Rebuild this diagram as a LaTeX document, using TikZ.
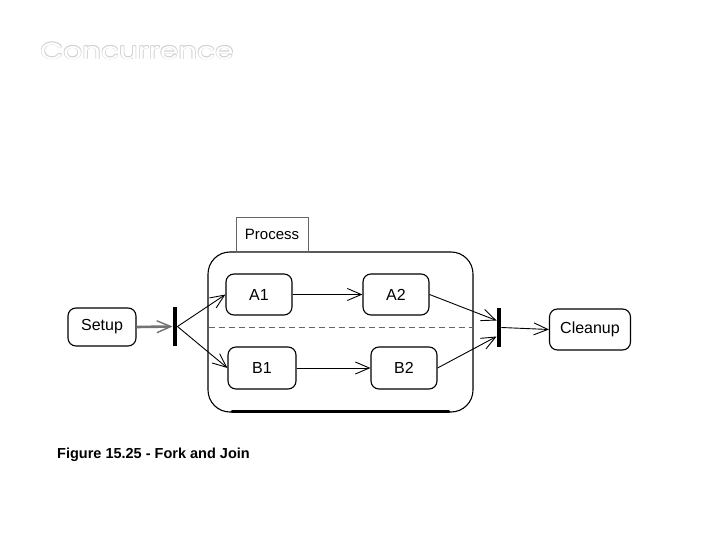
\documentclass[tikz,border=0pt]{standalone}
\usepackage{fontspec}
\setmainfont{Liberation Sans}
\newfontfamily\titlefont{Poppins}
\usetikzlibrary{arrows.meta}
\tikzset{
  state/.style={draw, line width=1.1pt, rounded corners=8pt, inner sep=0pt, font=\fontsize{16}{18}\selectfont},
  bar/.style={fill=black, inner sep=0pt, minimum width=4.5pt, minimum height=39pt},
  flow/.style={line width=0.9pt, -{Straight Barb[length=14pt,width=12pt,line width=0.9pt]}},
  ttl/.style={anchor=center, inner sep=0pt},
}
\newcommand{\ttltext}{\resizebox{193pt}{16.5pt}{\titlefont Concurrence}}
\begin{document}
\begin{tikzpicture}[x=1pt,y=-1pt]
\useasboundingbox (0,0) rectangle (720,540);
% title
\node[ttl, text=black!18] (ts1) at (137.6,51.6) {\ttltext};
\node[ttl, text=black!18] (ts2) at (136.4,50.4) {\ttltext};
\node[ttl, text=black!18] (ts3) at (137.6,50.4) {\ttltext};
\node[ttl, text=black!18] (ts4) at (136.4,51.6) {\ttltext};
\node[ttl, text=white] (title) at (137,51) {\ttltext};
% container
\draw[line width=1.1pt, rounded corners=22pt] (208,252) rectangle (473,412);
\draw[line width=2.6pt, line cap=round] (232,411.5) -- (449,411.5);
\node[draw=black!60, line width=0.5pt, inner sep=0pt, minimum width=72pt, minimum height=35pt, font=\fontsize{15}{17}\selectfont] (proc) at (272,234.5) {Process};
\draw[black!60, line width=1pt, dash pattern=on 6pt off 4pt] (208.5,327) coordinate (dl) -- (472.5,327) coordinate (dr);
% nodes
\node[state, minimum width=68pt, minimum height=38pt] (setup) at (102,327) {Setup};
\node[state, minimum width=66pt, minimum height=41pt] (A1) at (259,294.5) {A1};
\node[state, minimum width=68pt, minimum height=42pt] (B1) at (262,368) {B1};
\node[state, minimum width=66pt, minimum height=41pt] (A2) at (396,294.5) {A2};
\node[state, minimum width=66pt, minimum height=42pt] (B2) at (404,368) {B2};
\node[state, minimum width=81pt, minimum height=41pt] (clean) at (590,329.5) {Cleanup};
\node[bar] (fork) at (175,326.5) {};
\node[bar] (join) at (499,327.5) {};
% caption
\node[anchor=base west, inner sep=0pt, font=\bfseries\fontsize{14.5}{16}\selectfont] (cap) at (57,458) {Figure 15.25 - Fork and Join};
% flows
\draw[flow, black!55, line width=2.6pt, -{Straight Barb[length=14pt,width=12pt,line width=1.4pt]}] (setup.east) -- (fork.west);
\draw[flow] (fork.east) -- (A1.west);
\draw[flow] (fork.east) -- (B1.west);
\draw[flow] (A1.east) -- (A2.west);
\draw[flow] (B1.east) -- (B2.west);
\draw[flow] (A2.east) -- ([yshift=7pt]join.west);
\draw[flow] (B2.east) -- ([yshift=-9pt]join.west);
\draw[flow] (join.east) -- (clean.west);
\end{tikzpicture}
\end{document}
